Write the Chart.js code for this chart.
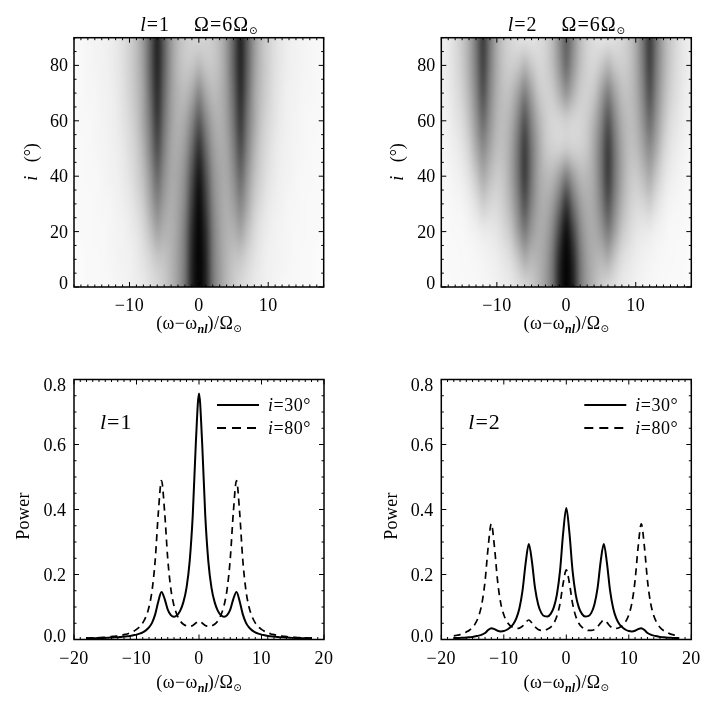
<!DOCTYPE html>
<html>
<head>
<meta charset="utf-8">
<script src="https://cdn.jsdelivr.net/npm/chart.js@4"></script>
<style>
  html, body { margin: 0; padding: 0; background: #fff; }
  canvas { position: absolute; }
</style>
</head>
<body>
<canvas id="heat1" width="363" height="340" style="left:0;top:0"></canvas>
<canvas id="heat2" width="363" height="340" style="left:363px;top:0"></canvas>
<canvas id="power1" width="363" height="369" style="left:0;top:340px"></canvas>
<canvas id="power2" width="363" height="369" style="left:363px;top:340px"></canvas>
<script>
// line panels
const omega = [-18,-17.5,-17,-16.5,-16,-15.5,-15,-14.5,-14,-13.5,-13,-12.5,-12,-11.5,-11,-10.5,-10,-9.5,-9,-8.5,-8,-7.5,-7,-6.5,-6,-5.5,-5,-4.5,-4,-3.5,-3,-2.5,-2,-1.5,-1,-0.5,0,0.5,1,1.5,2,2.5,3,3.5,4,4.5,5,5.5,6,6.5,7,7.5,8,8.5,9,9.5,10,10.5,11,11.5,12,12.5,13,13.5,14,14.5,15,15.5,16,16.5,17,17.5,18];
const l1i30 = [.0034,.0036,.0038,.0042,.0044,.0047,.005,.0054,.006,.0066,.007,.008,.009,.010,.011,.013,.015,.018,.022,.028,.037,.052,.078,.118,.146,.125,.092,.075,.070,.075,.089,.115,.159,.239,.382,.607,.757,.607,.382,.239,.159,.115,.089,.075,.070,.075,.092,.125,.146,.118,.078,.052,.037,.028,.022,.018,.015,.013,.011,.010,.009,.008,.007,.0066,.006,.0054,.005,.0047,.0044,.0042,.0038,.0036,.0034];
const l1i80 = [.0042,.0045,.0049,.0053,.0058,.0064,.007,.008,.009,.010,.011,.013,.015,.017,.021,.025,.031,.039,.051,.070,.100,.152,.246,.392,.489,.393,.248,.155,.104,.075,.057,.047,.042,.041,.043,.051,.056,.051,.043,.041,.042,.047,.057,.075,.104,.155,.248,.393,.489,.392,.246,.152,.100,.070,.051,.039,.031,.025,.021,.017,.015,.013,.011,.010,.009,.008,.007,.0064,.0058,.0053,.0049,.0045,.0042];
const l2i30 = [.0043,.0047,.005,.0056,.006,.007,.008,.010,.012,.015,.020,.029,.035,.032,.027,.025,.026,.030,.037,.047,.065,.096,.151,.236,.294,.240,.158,.108,.082,.072,.071,.079,.099,.139,.212,.328,.405,.328,.212,.139,.099,.079,.071,.072,.082,.108,.158,.240,.294,.236,.151,.096,.065,.047,.037,.030,.026,.025,.027,.032,.035,.029,.020,.015,.012,.010,.008,.007,.006,.0056,.005,.0047,.0043];
const l2i80 = [.011,.013,.015,.018,.023,.0285,.037,.051,.073,.111,.179,.285,.356,.286,.181,.113,.076,.055,.043,.037,.034,.035,.041,.053,.060,.051,.039,.031,.028,.028,.032,.038,.050,.072,.111,.173,.214,.173,.111,.072,.050,.038,.032,.028,.028,.031,.039,.051,.060,.053,.041,.035,.034,.037,.043,.055,.076,.113,.181,.286,.356,.285,.179,.111,.073,.051,.037,.0285,.023,.018,.015,.013,.011];

// image panels: darkness 0-100 per inclination row, for |omega| = 0..18 (both panels are mirror images about 0)
const heatOmega = [0,1,2,3,4,5,6,7,8,9,10,11,12,13,14,15,16,17,18];
const heatIncl = [0,10,20,30,40,50,60,70,80,90];
const heat1 = [
  [98,82,54,41,32,25,20,17,13,11,9,7,6,5,5,4,4,3,3],
  [98,81,53,41,33,28,26,21,16,12,9,8,7,6,5,4,4,3,3],
  [97,78,52,40,34,34,38,29,20,14,11,8,7,6,5,5,4,4,3],
  [94,72,49,39,35,40,48,37,25,18,13,10,8,6,6,5,4,4,3],
  [87,66,46,38,37,45,57,43,30,22,16,12,9,8,6,5,5,4,4],
  [76,57,42,36,38,50,66,49,34,24,18,13,10,8,7,6,5,4,4],
  [62,48,37,34,40,54,73,53,38,27,20,15,11,9,7,6,5,5,4],
  [47,37,31,33,41,57,78,57,39,29,22,16,12,9,8,6,6,5,4],
  [31,27,26,31,42,60,81,60,41,30,23,17,13,10,8,7,6,5,4],
  [21,22,25,31,42,60,82,60,42,30,23,17,13,10,8,7,6,5,4]
];
const heat2 = [
  [98,82,54,41,32,25,20,17,13,11,9,7,6,5,5,4,4,3,3],
  [98,79,53,40,34,32,35,26,18,14,11,9,7,6,5,5,4,4,3],
  [91,69,48,38,36,42,51,40,27,20,15,13,12,9,7,5,5,4,3],
  [74,55,41,35,38,49,64,48,34,25,20,21,24,17,11,7,6,5,4],
  [50,40,32,32,38,53,72,53,38,28,25,30,36,26,17,11,8,6,5],
  [24,22,23,27,38,53,72,53,38,30,30,38,46,36,23,15,11,8,6],
  [23,21,21,25,34,48,64,48,35,30,33,44,56,43,29,19,14,10,8],
  [43,34,25,23,27,39,50,39,30,29,35,48,65,48,33,23,17,12,9],
  [56,43,30,23,21,26,32,26,24,27,36,51,70,51,36,25,18,13,10],
  [60,46,31,22,18,15,15,17,21,26,36,53,72,53,36,26,19,13,10]
];

const serif = '"Liberation Serif", "DejaVu Sans"';
const fMain = '18px ' + serif;
const fItal = 'italic 18px ' + serif;
const fNote = '22px ' + serif;
const fNoteItal = 'italic 22px ' + serif;
const fTitle = '20px ' + serif;
const fTitleItal = 'italic 20px ' + serif;
const fSub = 'italic bold 12px ' + serif;
const fSun = '10px ' + serif;

function cellsFrom(table) {
  const cells = [];
  table.forEach((row, r) => {
    row.forEach((v, c) => {
      cells.push({ x: heatOmega[c], y: heatIncl[r], v: v });
      if (c > 0) cells.push({ x: -heatOmega[c], y: heatIncl[r], v: v });
    });
  });
  return cells;
}

function drawRuns(ctx, x, y, parts, align, rot) {
  ctx.save();
  ctx.translate(x, y);
  if (rot) ctx.rotate(rot);
  ctx.fillStyle = '#000';
  ctx.textAlign = 'left';
  ctx.textBaseline = 'alphabetic';
  let w = 0;
  parts.forEach(p => {
    ctx.font = p.f;
    ctx.letterSpacing = (p.ls || 0) + 'px';
    w += ctx.measureText(p.t).width;
  });
  let pos = align === 'center' ? -w / 2 : align === 'right' ? -w : 0;
  parts.forEach(p => {
    ctx.font = p.f;
    ctx.letterSpacing = (p.ls || 0) + 'px';
    ctx.fillText(p.t, pos, p.dy || 0);
    pos += ctx.measureText(p.t).width;
  });
  ctx.restore();
}

const xTitleParts = [
  { t: '(\u03c9\u2212\u03c9', f: fMain, ls: 0.4 },
  { t: 'nl', f: fSub, dy: 4 },
  { t: ')/\u03a9', f: fMain, ls: 0.4 },
  { t: '\u2299', f: fSun, dy: 3 }
];

// grey level for a darkness value: slight S curve, the image has more contrast than the raw reading
function greyFor(v) {
  const d = v / 100;
  const s = d * d * (3 - 2 * d);
  return Math.round(255 * (1 - 0.5 * d - 0.5 * s));
}

// grey image painted under the axes, placed with the chart's scales
const heatPlugin = {
  id: 'heat',
  beforeDatasetsDraw(chart) {
    const cells = chart.data.datasets[0].data;
    if (!chart.options.plugins.heat.on) return;
    const nx = heatOmega.length * 2 - 1, ny = heatIncl.length;
    const off = document.createElement('canvas');
    off.width = nx; off.height = ny;
    const octx = off.getContext('2d');
    const img = octx.createImageData(nx, ny);
    cells.forEach(c => {
      const col = c.x + 18, row = ny - 1 - c.y / 10;
      const g = greyFor(c.v);
      const k = (row * nx + col) * 4;
      img.data[k] = img.data[k + 1] = img.data[k + 2] = g;
      img.data[k + 3] = 255;
    });
    octx.putImageData(img, 0, 0);
    const { x, y } = chart.scales;
    const { ctx, chartArea: a } = chart;
    const left = x.getPixelForValue(-18.5), right = x.getPixelForValue(18.5);
    const top = y.getPixelForValue(95), bottom = y.getPixelForValue(-5);
    ctx.save();
    ctx.beginPath();
    ctx.rect(a.left, a.top, a.right - a.left, a.bottom - a.top);
    ctx.clip();
    ctx.imageSmoothingEnabled = true;
    ctx.imageSmoothingQuality = 'high';
    ctx.drawImage(off, left, top, right - left, bottom - top);
    ctx.restore();
  }
};

// inward ticks on all four sides plus the labels and texts
const framePlugin = {
  id: 'frame',
  afterDraw(chart) {
    const o = chart.options.plugins.frame;
    const { ctx, chartArea: a } = chart;
    const { x, y } = chart.scales;
    const isMajor = (v, m) => Math.abs(v / m - Math.round(v / m)) < 1e-6;
    ctx.save();
    ctx.strokeStyle = '#000';
    ctx.lineWidth = 1;
    x.ticks.forEach(t => {
      const p = x.getPixelForValue(t.value), len = isMajor(t.value, o.xMajor) ? 5 : 2.5;
      ctx.beginPath();
      ctx.moveTo(p, a.bottom); ctx.lineTo(p, a.bottom - len);
      ctx.moveTo(p, a.top); ctx.lineTo(p, a.top + len);
      ctx.stroke();
      if (isMajor(t.value, o.xMajor)) {
        const txt = t.value < 0 ? '\u2212' + Math.abs(t.value) : String(t.value);
        drawRuns(ctx, p, a.bottom + 24, [{ t: txt, f: fMain, ls: 0.4 }], 'center');
      }
    });
    y.ticks.forEach(t => {
      const p = y.getPixelForValue(t.value), len = isMajor(t.value, o.yMajor) ? 5 : 2.5;
      ctx.beginPath();
      ctx.moveTo(a.left, p); ctx.lineTo(a.left + len, p);
      ctx.moveTo(a.right, p); ctx.lineTo(a.right - len, p);
      ctx.stroke();
      if (isMajor(t.value, o.yMajor)) {
        const c = Math.max(a.top + 5, Math.min(a.bottom - 4, p));
        drawRuns(ctx, a.left - o.yLabelGap, c + 6, [{ t: t.value.toFixed(o.yDigits), f: fMain }], 'right');
      }
    });
    ctx.lineWidth = 1.5;
    ctx.strokeRect(a.left, a.top, a.right - a.left, a.bottom - a.top);
    const mid = (a.left + a.right) / 2;
    drawRuns(ctx, mid, a.bottom + o.xTitleGap, xTitleParts, 'center');
    drawRuns(ctx, o.yTitle.x, o.yTitle.y, o.yTitle.parts, 'center', -Math.PI / 2);
    if (o.title) drawRuns(ctx, mid, 31, o.title, 'center');
    if (o.note) drawRuns(ctx, a.left + o.note.dx, a.top + o.note.dy, o.note.parts, 'left');
    if (o.key) {
      o.key.forEach(k => {
        ctx.lineWidth = k.width;
        ctx.setLineDash(k.dash);
        ctx.beginPath();
        ctx.moveTo(a.left + 143, a.top + k.dy);
        ctx.lineTo(a.left + 185, a.top + k.dy);
        ctx.stroke();
        ctx.setLineDash([]);
        drawRuns(ctx, a.left + 194, a.top + k.dy + 6, k.parts, 'left');
      });
    }
    ctx.restore();
  }
};
Chart.register(heatPlugin, framePlugin);

function linearScale(min, max, step, key) {
  return {
    type: 'linear', min: min, max: max,
    ticks: { stepSize: step, display: false, autoSkip: false, includeBounds: false },
    grid: { display: false, drawTicks: false },
    border: { display: false },
    afterFit(s) { s[key] = 0; }
  };
}

function makeChart(id, type, datasets, padding, xr, yr, yStep, heatOn, frame) {
  return new Chart(document.getElementById(id), {
    type: type,
    data: { datasets: datasets },
    options: {
      responsive: false,
      animation: false,
      devicePixelRatio: 1,
      layout: { padding: padding },
      scales: {
        x: linearScale(xr[0], xr[1], 1, 'height'),
        y: linearScale(yr[0], yr[1], yStep, 'width')
      },
      plugins: { legend: { display: false }, tooltip: { enabled: false }, heat: { on: heatOn }, frame: frame }
    }
  });
}

function curve(values, width, dash) {
  return {
    data: omega.map((w, k) => ({ x: w, y: values[k] })),
    borderColor: '#000', borderWidth: width, borderDash: dash,
    pointRadius: 0, cubicInterpolationMode: 'monotone', fill: false
  };
}

const eq = (a, b) => [{ t: a, f: fItal, ls: 0.5 }, { t: '=' + b, f: fMain, ls: 0.5 }];
const noteFor = l => [{ t: 'l', f: fNoteItal, ls: 1 }, { t: '=' + l, f: fNote, ls: 1 }];
const titleFor = l => [
  { t: 'l', f: fTitleItal, ls: 1 },
  { t: '=' + l, f: fTitle, ls: 1 },
  { t: '    \u03a9=6\u03a9', f: fTitle, ls: 1 },
  { t: '\u2299', f: fSun, dy: 3 }
];
const keyFor = [
  { dy: 25.5, width: 2, dash: [], parts: eq('i', '30\u00b0') },
  { dy: 48.5, width: 2, dash: [9, 6], parts: eq('i', '80\u00b0') }
];
const inclTitle = [{ t: 'i', f: fItal }, { t: '   (\u00b0)', f: fMain }];
const powerTitle = [{ t: 'Power', f: fMain, ls: 0.3 }];

makeChart('heat1', 'scatter', [{ data: cellsFrom(heat1), pointRadius: 0 }],
  { left: 74, right: 39.3, top: 37.7, bottom: 53 }, [-18, 18], [0, 90], 5, true,
  { xMajor: 10, yMajor: 20, yDigits: 0, yLabelGap: 6, xTitleGap: 42, title: titleFor('1'), yTitle: { x: 37, y: 162, parts: inclTitle } });
makeChart('heat2', 'scatter', [{ data: cellsFrom(heat2), pointRadius: 0 }],
  { left: 78.3, right: 34.7, top: 37.7, bottom: 53 }, [-18, 18], [0, 90], 5, true,
  { xMajor: 10, yMajor: 20, yDigits: 0, yLabelGap: 6, xTitleGap: 42, title: titleFor('2'), yTitle: { x: 40, y: 162, parts: inclTitle } });
makeChart('power1', 'line', [curve(l1i30, 2, []), curve(l1i80, 1.7, [7, 5])],
  { left: 74, right: 39, top: 39.5, bottom: 69.5 }, [-20, 20], [0, 0.8], 0.05, false,
  { xMajor: 10, yMajor: 0.2, yDigits: 1, yLabelGap: 8, xTitleGap: 48, yTitle: { x: 29, y: 176, parts: powerTitle },
    note: { dx: 26, dy: 49, parts: noteFor('1') }, key: keyFor });
makeChart('power2', 'line', [curve(l2i30, 2, []), curve(l2i80, 1.7, [7, 5])],
  { left: 78.3, right: 34.7, top: 39.5, bottom: 69.5 }, [-20, 20], [0, 0.8], 0.05, false,
  { xMajor: 10, yMajor: 0.2, yDigits: 1, yLabelGap: 8, xTitleGap: 48, yTitle: { x: 34, y: 176, parts: powerTitle },
    note: { dx: 27, dy: 49, parts: noteFor('2') }, key: keyFor });
</script>
</body>
</html>
